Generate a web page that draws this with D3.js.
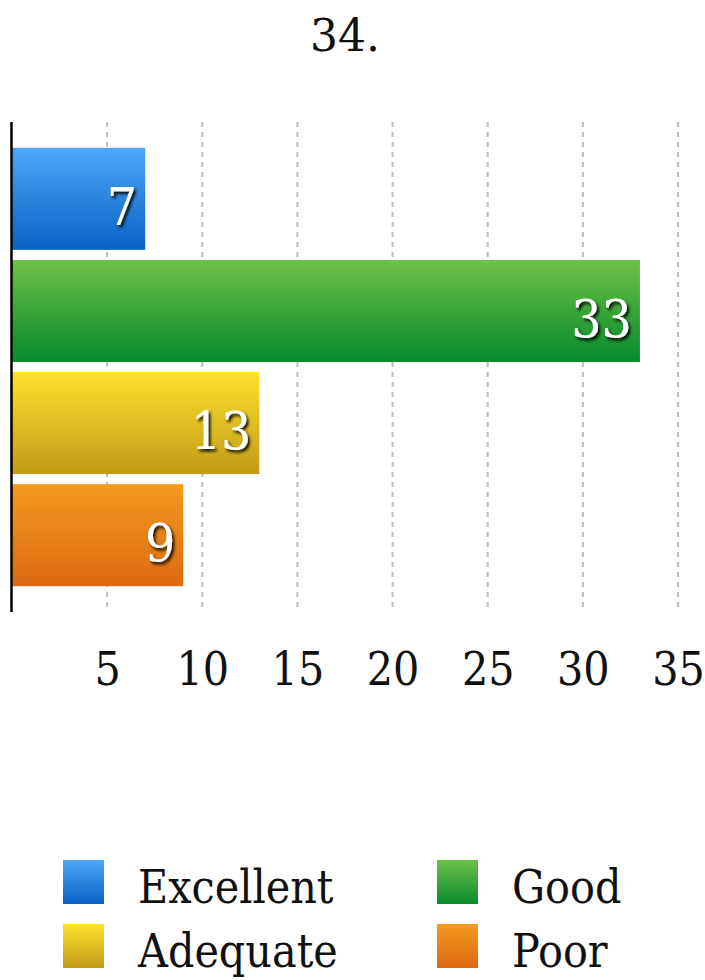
<!DOCTYPE html>
<html>
<head>
<meta charset="utf-8">
<script src="https://cdn.jsdelivr.net/npm/d3@7"></script>
<style>
  html, body { margin: 0; padding: 0; background: #fff; }
  svg { display: block; }
  text { font-family: "DejaVu Serif", serif; }
  .cond { font-stretch: condensed; }
</style>
</head>
<body>
<svg id="chart" width="705" height="980"></svg>
<script>
// Ratings and their counts
const categories = ["Excellent", "Good", "Adequate", "Poor"];
const values = [7, 33, 13, 9];
const tickValues = [5, 10, 15, 20, 25, 30, 35];
const chartTitle = "34.";
// top / bottom gradient stops for each rating
const topColors = ["#4ea7f8", "#6dc147", "#fbe22c", "#f39a20"];
const bottomColors = ["#0862c3", "#078a2b", "#c39a19", "#dc6910"];

const svg = d3.select("#chart");
const defs = svg.append("defs");

categories.forEach((c, i) => {
  const g = defs.append("linearGradient")
    .attr("id", "grad" + i)
    .attr("x1", 0).attr("y1", 0).attr("x2", 0).attr("y2", 1);
  g.append("stop").attr("offset", "0%").attr("stop-color", topColors[i]);
  g.append("stop").attr("offset", "100%").attr("stop-color", bottomColors[i]);
});

const shadow = defs.append("filter").attr("id", "shadow")
  .attr("x", "-30%").attr("y", "-30%").attr("width", "160%").attr("height", "160%");
shadow.append("feDropShadow")
  .attr("dx", 2).attr("dy", 2.5).attr("stdDeviation", 1.8)
  .attr("flood-color", "#000").attr("flood-opacity", 0.95);

const plotTop = 122, plotBottom = 612;
const x = d3.scaleLinear().domain([0, 35]).range([12, 678]);
const y = d3.scaleBand().domain(categories)
  .range([plotTop, plotBottom]).paddingInner(0.09).paddingOuter(0.23);

// title
svg.append("text")
  .attr("x", 345).attr("y", 51)
  .attr("text-anchor", "middle")
  .attr("font-size", 44)
  .attr("fill", "#111")
  .text(chartTitle);

// vertical dashed grid
svg.append("g").selectAll("line").data(tickValues).join("line")
  .attr("x1", d => x(d)).attr("x2", d => x(d))
  .attr("y1", plotTop).attr("y2", plotBottom)
  .attr("stroke", "#bdbdbd").attr("stroke-width", 2)
  .attr("stroke-dasharray", "5,5");

// bars
svg.append("g").selectAll("rect").data(categories).join("rect")
  .attr("x", x(0))
  .attr("y", d => y(d))
  .attr("width", (d, i) => x(values[i]) - x(0))
  .attr("height", y.bandwidth())
  .attr("fill", (d, i) => `url(#grad${i})`);

// value labels inside bar ends
svg.append("g").selectAll("text").data(categories).join("text")
  .attr("class", "cond")
  .attr("x", (d, i) => x(values[i]) - 8)
  .attr("y", d => y(d) + y.bandwidth() / 2 + 26)
  .attr("text-anchor", "end")
  .attr("font-size", 53)
  .attr("fill", "#fff")
  .attr("filter", "url(#shadow)")
  .text((d, i) => values[i]);

// y axis line
svg.append("line")
  .attr("x1", 11.5).attr("x2", 11.5)
  .attr("y1", plotTop).attr("y2", plotBottom)
  .attr("stroke", "#000").attr("stroke-width", 2.5);

// x axis labels
const xAxis = svg.append("g")
  .attr("transform", `translate(0,${plotBottom})`)
  .call(d3.axisBottom(x).tickValues(tickValues).tickSize(0).tickPadding(0));
xAxis.select(".domain").remove();
xAxis.selectAll("text")
  .attr("class", "cond")
  .attr("dy", null)
  .attr("y", 73)
  .attr("font-size", 46)
  .attr("font-family", "DejaVu Serif")
  .attr("fill", "#111");

// legend
const legendPos = [[63, 860], [437, 860], [63, 924], [437, 924]];
const legend = svg.append("g").selectAll("g").data(categories).join("g")
  .attr("transform", (d, i) => `translate(${legendPos[i][0]},${legendPos[i][1]})`);
legend.append("rect")
  .attr("width", 41).attr("height", 44)
  .attr("fill", (d, i) => `url(#grad${i})`);
legend.append("text")
  .attr("class", "cond")
  .attr("x", 75).attr("y", 43)
  .attr("font-size", 46)
  .attr("fill", "#111")
  .text(d => d);
</script>
</body>
</html>
